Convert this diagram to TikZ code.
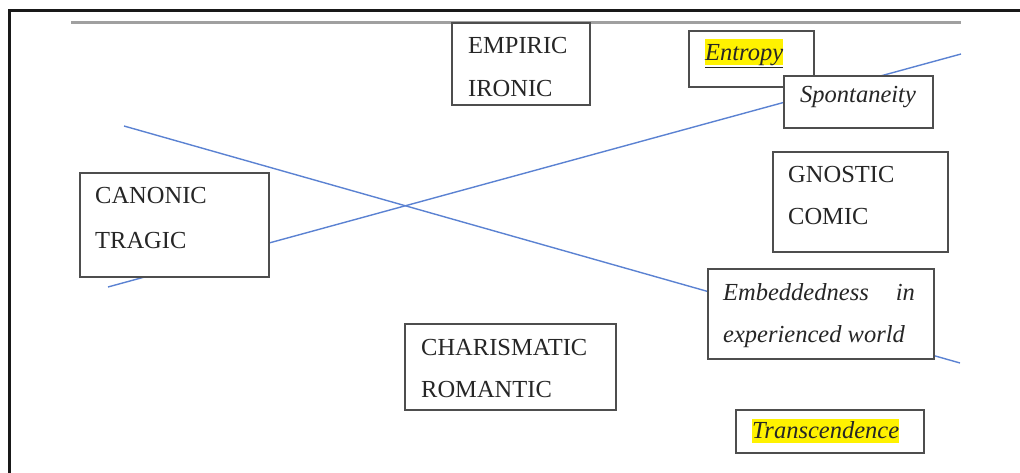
\documentclass[tikz,border=0pt]{standalone}
\usepackage{fontspec}
\setmainfont{Liberation Serif}
\definecolor{boxgray}{HTML}{4E4E4E}
\definecolor{linkblue}{HTML}{5B82D2}
\definecolor{rulegray}{HTML}{A0A0A0}
\definecolor{hl}{HTML}{FFF200}
\begin{document}
\begin{tikzpicture}[x=1pt,y=-1pt,
  box/.style={draw=boxgray,line width=1.8pt,fill=white,rectangle,inner sep=0pt,anchor=north west},
  txt/.style={inner sep=0pt,anchor=base west,font=\fontsize{24.5}{30}\selectfont,text=black!85},
  itxt/.style={txt,font=\fontsize{24.5}{30}\selectfont\itshape},
  hlt/.style={itxt,fill=hl},
  link/.style={draw=linkblue,line width=1.4pt}]
\useasboundingbox (0,0) rectangle (1020,473);
% frame
\coordinate (fa) at (9.7,473);
\coordinate (fb) at (9.7,10.5);
\coordinate (fc) at (1020,10.5);
\draw[line width=3pt,black!90] (fa) -- (fb) -- (fc);
\coordinate (ra) at (71,23);
\coordinate (rb) at (961,23);
\draw[line width=3pt,rulegray] (ra) -- (rb);
% blue lines
\coordinate (l1a) at (108,287);
\coordinate (l1b) at (961,54);
\coordinate (l2a) at (124,126);
\coordinate (l2b) at (960,363);
\draw[link] (l1a) -- (l1b);
\draw[link] (l2a) -- (l2b);
% boxes
\node[box,minimum width=138,minimum height=82] (empiric) at (451,22.5) {};
\node[txt] (empiric1) at (468,54) {EMPIRIC};
\node[txt] (empiric2) at (468,97) {IRONIC};

\node[box,minimum width=125,minimum height=56] (entropy) at (688,30) {};
\node[hlt,text height=22pt,text depth=4pt] (entropy1) at (705,61) {\underline{Entropy}};

\node[box,minimum width=149,minimum height=52] (spont) at (783,75) {};
\node[itxt] (spont1) at (800,103) {Spontaneity};

\node[box,minimum width=189,minimum height=104] (canonic) at (79,172) {};
\node[txt] (canonic1) at (95,204) {CANONIC};
\node[txt] (canonic2) at (95,248) {TRAGIC};

\node[box,minimum width=175,minimum height=100] (gnostic) at (772,151) {};
\node[txt] (gnostic1) at (788,183) {GNOSTIC};
\node[txt] (gnostic2) at (788,225) {COMIC};

\node[box,minimum width=226,minimum height=90] (embed) at (707,268) {};
\node[itxt] (embed1) at (723,300) {Embeddedness};
\node[itxt,anchor=base east] (embed1b) at (915,300) {in};
\node[itxt] (embed2) at (723,342) {experienced world};

\node[box,minimum width=211,minimum height=86] (charis) at (404,323) {};
\node[txt] (charis1) at (421,355) {CHARISMATIC};
\node[txt] (charis2) at (421,397) {ROMANTIC};

\node[box,minimum width=188,minimum height=43] (trans) at (735,409) {};
\node[hlt,text height=19pt,text depth=5pt] (trans1) at (752,438) {Transcendence};
\end{tikzpicture}
\end{document}
